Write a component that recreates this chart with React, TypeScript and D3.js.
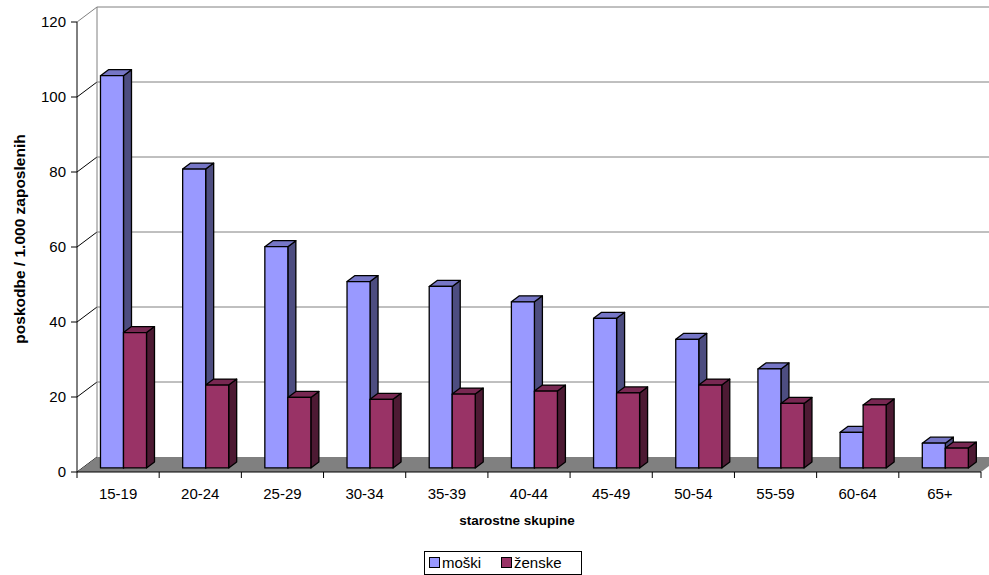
import React from "react";
import * as d3 from "d3";

const categories = ["15-19", "20-24", "25-29", "30-34", "35-39", "40-44", "45-49", "50-54", "55-59", "60-64", "65+"];
const moski = [104.6, 79.7, 59.0, 49.7, 48.4, 44.3, 39.9, 34.3, 26.4, 9.5, 6.6];
const zenske = [36.1, 22.1, 18.8, 18.3, 19.7, 20.5, 20.0, 22.1, 17.2, 16.8, 5.3];
const yTicks = [0, 20, 40, 60, 80, 100, 120];
const seriesNames = ["moški", "ženske"];

const W = 989;
const H = 575;
const FONT = "'Liberation Sans', Arial, sans-serif";

// plot frame (front plane)
const X0 = 77;
const X1 = 981;
const Y0 = 472;
const Y1 = 22;
// full depth of the 3D box
const DX = 20;
const DY = -15;
// bars sit between these depth fractions
const Z_FRONT = 0.27;
const Z_BACK = 0.67;

const colors = [
  { front: "#9999FF", top: "#7676C6", side: "#4D4D80" },
  { front: "#993366", top: "#782852", side: "#4D1A33" },
];

export default function App() {
  const x = d3.scaleBand<string>().domain(categories).range([X0, X1]).padding(0);
  const y = d3.scaleLinear().domain([0, 120]).range([Y0, Y1]);
  const bw = x.bandwidth();
  const inner = d3
    .scaleBand<number>()
    .domain([0, 1])
    .range([bw * 0.22, bw * 0.78])
    .padding(0);

  const P = (px: number, v: number, z: number): [number, number] => [px + DX * z, y(v) + DY * z];
  const poly = (pts: [number, number][]) => pts.map((p) => p.join(",")).join(" ");

  const bars: React.ReactNode[] = [];
  categories.forEach((c, i) => {
    [moski[i], zenske[i]].forEach((v, s) => {
      const xl = (x(c) as number) + inner(s)!;
      const xr = xl + inner.bandwidth();
      const col = colors[s];
      const front = poly([P(xl, 0, Z_FRONT), P(xr, 0, Z_FRONT), P(xr, v, Z_FRONT), P(xl, v, Z_FRONT)]);
      const top = poly([P(xl, v, Z_FRONT), P(xr, v, Z_FRONT), P(xr, v, Z_BACK), P(xl, v, Z_BACK)]);
      const side = poly([P(xr, 0, Z_FRONT), P(xr, 0, Z_BACK), P(xr, v, Z_BACK), P(xr, v, Z_FRONT)]);
      bars.push(
        <g key={c + s} stroke="#000" strokeWidth={1.3} strokeLinejoin="round">
          <polygon points={side} fill={col.side} />
          <polygon points={top} fill={col.top} />
          <polygon points={front} fill={col.front} />
        </g>
      );
    });
  });

  const floor = poly([P(X0, 0, 0), P(X1, 0, 0), P(X1, 0, 1), P(X0, 0, 1)]);

  return (
    <svg width={W} height={H} style={{ position: "absolute", left: 0, top: 0, background: "#fff" }} fontFamily={FONT}>
      {/* back wall grid */}
      {yTicks.map((t) => {
        const [bx, by] = P(X0, t, 1);
        const [ex] = P(X1, t, 1);
        return (
          <g key={"g" + t}>
            {t > 0 && <line x1={bx} y1={by} x2={ex} y2={by} stroke="#808080" strokeWidth={1} />}
            <line x1={X0} y1={y(t)} x2={bx} y2={by} stroke={t === 120 ? "#808080" : "#000"} strokeWidth={1} />
          </g>
        );
      })}
      <line x1={X0 + DX} y1={y(0) + DY} x2={X0 + DX} y2={y(120) + DY} stroke="#808080" strokeWidth={1} />
      {/* floor */}
      <polygon points={floor} fill="#808080" />
      {bars}
      {/* value axis */}
      <line x1={X0} y1={Y0} x2={X0} y2={Y1} stroke="#000" strokeWidth={1} />
      {yTicks.map((t) => (
        <g key={"t" + t}>
          <line x1={X0 - 6} y1={y(t)} x2={X0} y2={y(t)} stroke="#000" />
          <text x={X0 - 11} y={y(t) + 5} textAnchor="end" fontSize={15} fill="#000">
            {t}
          </text>
        </g>
      ))}
      {/* category axis */}
      <line x1={X0} y1={Y0} x2={X1} y2={Y0} stroke="#000" strokeWidth={1} />
      {categories.map((c) => (
        <line key={"ct" + c} x1={x(c)} y1={Y0} x2={x(c)} y2={Y0 + 6} stroke="#000" />
      ))}
      <line x1={X1} y1={Y0} x2={X1} y2={Y0 + 6} stroke="#000" />
      {categories.map((c) => (
        <text key={"cl" + c} x={(x(c) as number) + bw / 2} y={499} textAnchor="middle" fontSize={15} fill="#000">
          {c}
        </text>
      ))}
      <text x={517} y={525} textAnchor="middle" fontSize={13.5} fontWeight="bold" fill="#000">
        starostne skupine
      </text>
      <text
        transform={`translate(25, 239) rotate(-90)`}
        textAnchor="middle"
        fontSize={15.5}
        fontWeight="bold"
        fill="#000"
      >
        poskodbe / 1.000 zaposlenih
      </text>
      {/* legend */}
      <rect x={424.5} y={551.5} width={157} height={23} fill="#fff" stroke="#000" strokeWidth={1} />
      {seriesNames.map((n, i) => {
        const lx = i === 0 ? 429 : 501;
        return (
          <g key={n}>
            <rect x={lx + 0.5} y={557.5} width={10} height={10} fill={colors[i].front} stroke="#000" strokeWidth={1} />
            <text x={lx + 13} y={568} fontSize={15} fill="#000">
              {n}
            </text>
          </g>
        );
      })}
    </svg>
  );
}
